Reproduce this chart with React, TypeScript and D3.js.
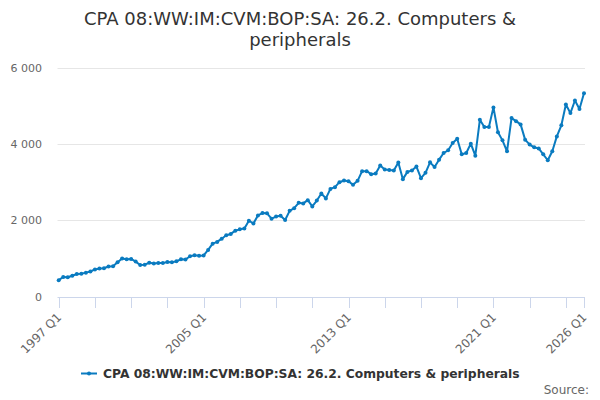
import React, { useEffect, useRef } from 'react';
import * as d3 from 'd3';

const seriesName = 'CPA 08:WW:IM:CVM:BOP:SA: 26.2. Computers & peripherals';
const titleLines = ['CPA 08:WW:IM:CVM:BOP:SA: 26.2. Computers &', 'peripherals'];

// quarterly values, 1997 Q1 .. 2026 Q1
const values: number[] = [
    433, 515, 508, 550, 595, 600, 630, 660, 715, 740, 745, 790, 795, 900, 1000, 980,
    990, 920, 830, 840, 890, 870, 880, 880, 910, 900, 930, 980, 975, 1060, 1085, 1070,
    1080, 1225, 1390, 1435, 1520, 1610, 1645, 1730, 1765, 1785, 1990, 1920, 2130, 2190, 2185, 2045,
    2100, 2120, 2010, 2250, 2320, 2460, 2445, 2530, 2365, 2520, 2705, 2575, 2825, 2870, 3000, 3045,
    3025, 2930, 3035, 3290, 3290, 3210, 3225, 3435, 3330, 3320, 3305, 3514, 3080, 3270, 3305, 3410,
    3105, 3245, 3520, 3400, 3590, 3765, 3835, 4025, 4140, 3730, 3765, 4010, 3695, 4635, 4445, 4445,
    4960, 4310, 4096, 3810, 4680, 4600, 4515, 4115, 3985, 3915, 3885, 3730, 3575, 3810, 4200, 4490,
    5035, 4810, 5140, 4920, 5330,
];

const startYear = 1997;
const categories: string[] = values.map((_, i) => `${startYear + Math.floor(i / 4)} Q${(i % 4) + 1}`);
const xTickLabels = ['1997 Q1', '2005 Q1', '2013 Q1', '2021 Q1', '2026 Q1'];
const yTicks = [0, 2000, 4000, 6000];

const width = 600;
const height = 400;
const font = '"DejaVu Sans", Verdana, sans-serif';
const blue = '#0a7bc0';

const App: React.FC = () => {
    const ref = useRef<SVGSVGElement>(null);

    useEffect(() => {
        document.body.style.margin = '0';
        draw();
        //eslint-disable-next-line
    }, []);

    const draw = () => {
        const svg = d3.select(ref.current);
        svg.selectAll('*').remove();

        const x = d3.scalePoint<string>().domain(categories).range([58.7, 584]);
        const y = d3.scaleLinear().domain([0, 6000]).range([296.7, 67.7]);

        svg.append('rect').attr('width', width).attr('height', height).attr('fill', '#fff');

        // title
        const title = svg.append('text')
            .attr('text-anchor', 'middle')
            .attr('font-family', font)
            .attr('font-size', 18)
            .attr('fill', '#333');
        titleLines.forEach((t, i) => {
            title.append('tspan').attr('x', width / 2).attr('y', 25 + i * 21).text(t);
        });

        // grid + y labels
        const yAxis = svg.append('g');
        yAxis.selectAll('line')
            .data(yTicks.filter(d => d > 0))
            .enter()
            .append('line')
            .attr('x1', 57.5)
            .attr('x2', 585)
            .attr('y1', d => Math.round(y(d)) + 0.5)
            .attr('y2', d => Math.round(y(d)) + 0.5)
            .attr('stroke', '#e6e6e6');
        yAxis.selectAll('text')
            .data(yTicks)
            .enter()
            .append('text')
            .attr('x', 42)
            .attr('y', d => y(d) + 4)
            .attr('text-anchor', 'end')
            .attr('font-family', font)
            .attr('font-size', 11)
            .attr('fill', '#666')
            .text(d => d3.format(',')(d).replace(/,/g, ' '));

        // x axis
        const xAxis = svg.append('g');
        xAxis.append('line')
            .attr('x1', 57.5)
            .attr('x2', 585)
            .attr('y1', 297.5)
            .attr('y2', 297.5)
            .attr('stroke', '#ccd6eb');
        const tickCats = categories.filter((_, i) => i % 8 === 0 || i === categories.length - 1);
        xAxis.selectAll('line.tick')
            .data(tickCats)
            .enter()
            .append('line')
            .attr('class', 'tick')
            .attr('x1', d => Math.round(x(d) ?? 0) + 0.5)
            .attr('x2', d => Math.round(x(d) ?? 0) + 0.5)
            .attr('y1', 297)
            .attr('y2', 308)
            .attr('stroke', '#ccd6eb');
        xAxis.selectAll('text')
            .data(xTickLabels)
            .enter()
            .append('text')
            .attr('transform', d => `translate(${(x(d) ?? 0) + 3.5},${318}) rotate(-45)`)
            .attr('text-anchor', 'end')
            .attr('font-family', font)
            .attr('font-size', 12)
            .attr('fill', '#666')
            .text(d => d);

        // series
        const line = d3.line<number>()
            .x((_, i) => x(categories[i]) ?? 0)
            .y(d => y(d));
        svg.append('path')
            .datum(values)
            .attr('d', line)
            .attr('fill', 'none')
            .attr('stroke', blue)
            .attr('stroke-width', 2)
            .attr('stroke-linejoin', 'round');
        svg.append('g')
            .selectAll('circle')
            .data(values)
            .enter()
            .append('circle')
            .attr('cx', (_, i) => x(categories[i]) ?? 0)
            .attr('cy', d => y(d))
            .attr('r', 2)
            .attr('fill', blue);

        // legend
        const legend = svg.append('g');
        legend.append('line')
            .attr('x1', 81).attr('x2', 97)
            .attr('y1', 373.5).attr('y2', 373.5)
            .attr('stroke', blue).attr('stroke-width', 2);
        legend.append('circle').attr('cx', 89).attr('cy', 373.5).attr('r', 2).attr('fill', blue);
        legend.append('text')
            .attr('x', 103)
            .attr('y', 378)
            .attr('font-family', font)
            .attr('font-size', 12.3)
            .attr('font-weight', 'bold')
            .attr('fill', '#333')
            .text(seriesName);

        // credits
        svg.append('text')
            .attr('x', 589)
            .attr('y', 394)
            .attr('text-anchor', 'end')
            .attr('font-family', font)
            .attr('font-size', 12)
            .attr('fill', '#666')
            .text('Source:');
    };

    return <svg ref={ref} width={width} height={height} style={{ display: 'block' }}></svg>;
};

export default App;
